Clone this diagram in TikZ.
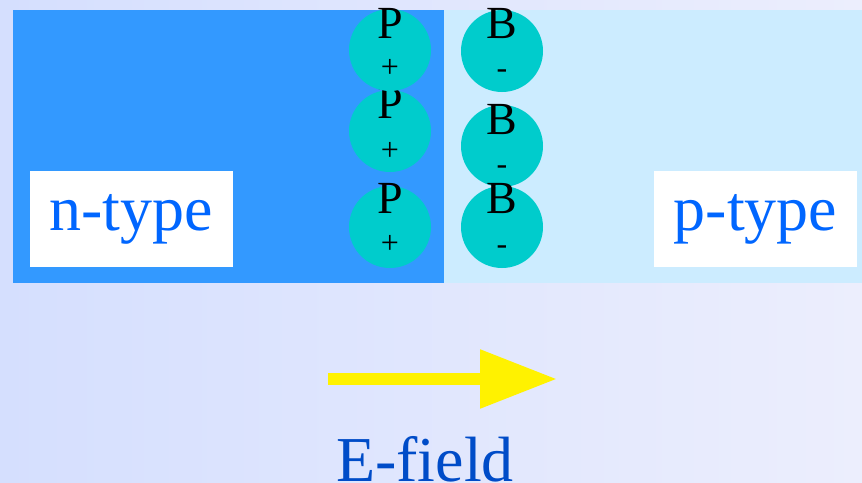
\documentclass[tikz,border=0pt]{standalone}
\usepackage{fontspec}
\setmainfont{Liberation Serif}
\usetikzlibrary{arrows.meta}
\definecolor{bgleft}{RGB}{213,223,254}
\definecolor{bgright}{RGB}{236,238,253}
\definecolor{nside}{RGB}{51,153,255}
\definecolor{pside}{RGB}{204,236,255}
\definecolor{ioncol}{RGB}{0,204,204}
\definecolor{typecol}{RGB}{0,102,255}
\definecolor{fieldcol}{RGB}{0,76,200}
\begin{document}
\begin{tikzpicture}[x=1pt,y=-1pt]
        \tikzstyle{ion}=[circle, fill=ioncol, minimum size=82pt, inner sep=0pt]
        \tikzstyle{atom}=[anchor=base, inner sep=0pt, font=\fontsize{46}{46}\selectfont]
        \tikzstyle{charge}=[anchor=base, inner sep=0pt, font=\fontsize{32}{32}\selectfont]
        \tikzstyle{typebox}=[fill=white, minimum width=203pt, minimum height=96pt, text=typecol, font=\fontsize{64}{64}\selectfont]
            \useasboundingbox (0,0) rectangle (862,482);
            \shade[left color=bgleft, right color=bgright] (0,0) rectangle (862,482);
            % the two sides of the junction
            \fill[nside] (13,10) rectangle (444,283);
            \fill[pside] (444,10) rectangle (862,283);
            \node[typebox] (ntype) at (131,219) {n-type};
            \node[typebox] (ptype) at (755.5,219) {p-type};
            % donor ions
            \node[ion] (p3) at (390,227) {};
            \node[atom] at (390,213) {P};
            \node[charge] at (390,253) {+};
            \node[ion] (p2) at (390,131) {};
            \node[atom] at (390,118) {P};
            \node[charge] at (390,160) {+};
            \node[ion] (p1) at (390,50) {};
            \node[atom] at (390,38) {P};
            \node[charge] at (390,77) {+};
            % acceptor ions
            \node[ion] (b1) at (502,51) {};
            \node[atom] at (502,38) {B};
            \node[charge] at (502,78) {-};
            \node[ion] (b2) at (502,146) {};
            \node[atom] at (502,134) {B};
            \node[charge] at (502,174) {-};
            \node[ion] (b3) at (502,227) {};
            \node[atom] at (502,213) {B};
            \node[charge] at (502,254) {-};
            % field
            \coordinate (fstart) at (328,379);
            \coordinate (fend) at (557,379);
            \draw[yellow, line width=12pt, -{Triangle[length=77pt, width=56pt]}] (fstart) -- (fend);
            \node[anchor=base, text=fieldcol, inner sep=0pt, font=\fontsize{64}{64}\selectfont] (efield) at (425,481) {E-field};
        \end{tikzpicture}
\end{document}
